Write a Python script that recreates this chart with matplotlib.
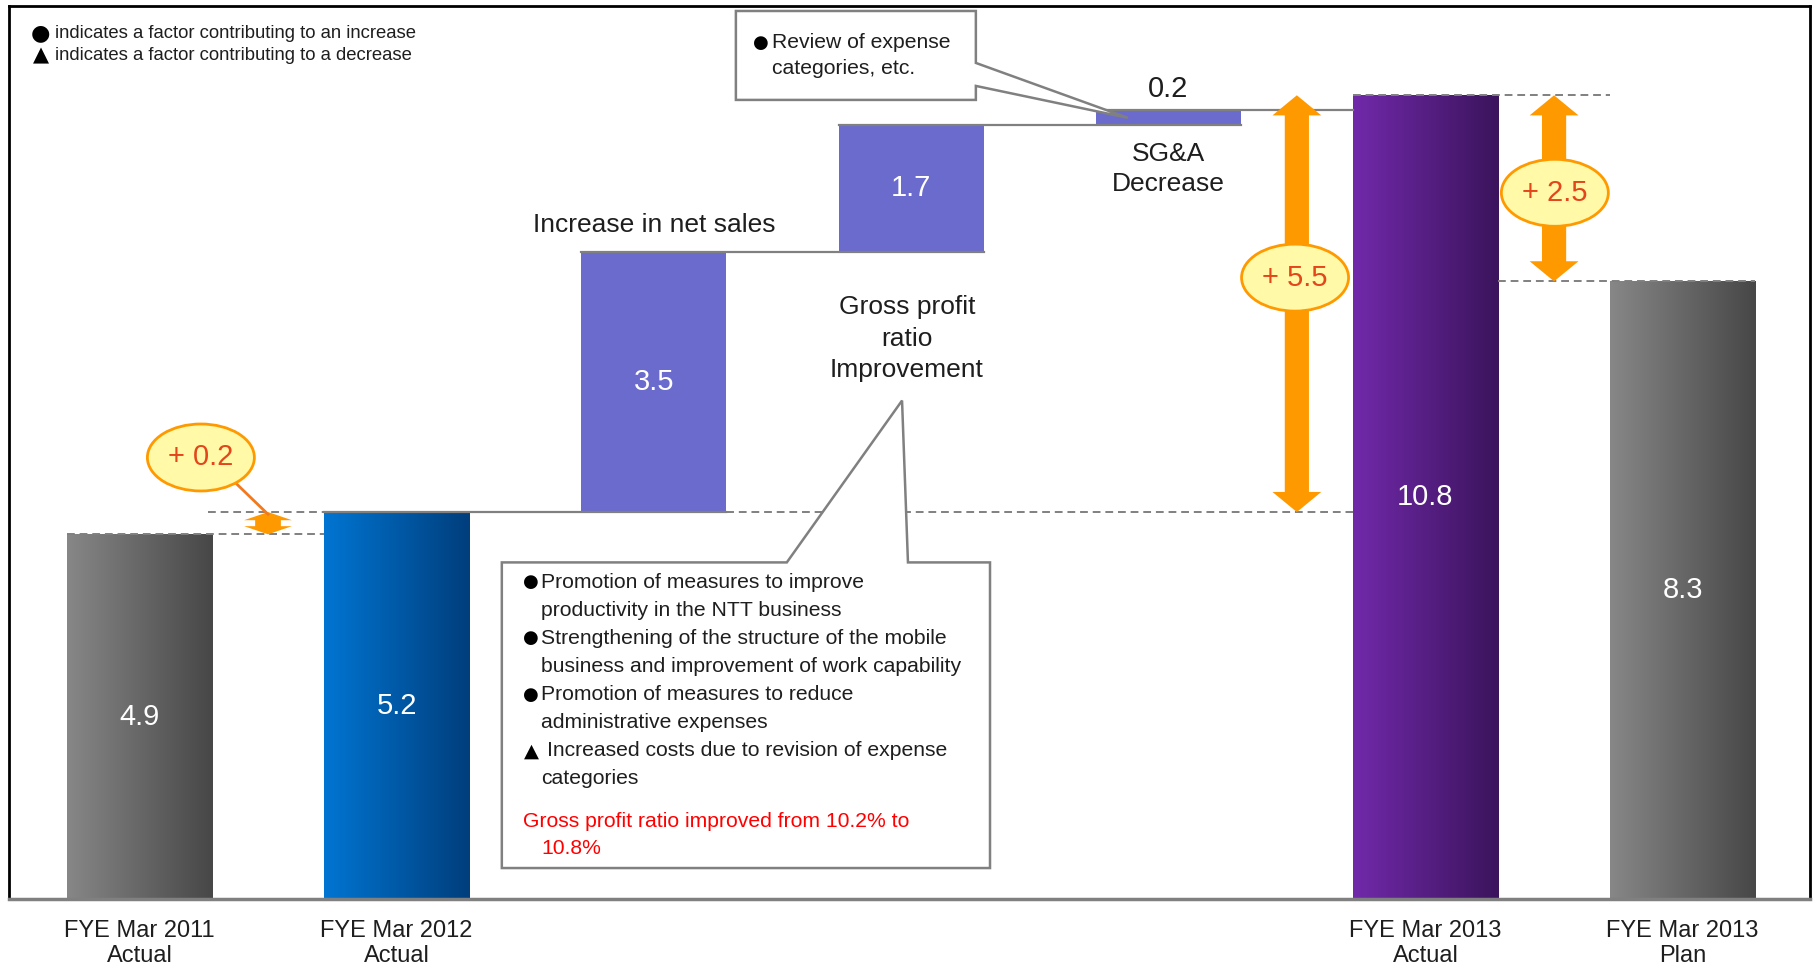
import numpy as np
import matplotlib
matplotlib.use("Agg")
import matplotlib.pyplot as plt
from matplotlib.patches import Ellipse, Polygon
from matplotlib.colors import to_rgb

plt.rcParams['font.family'] = ['Liberation Sans', 'DejaVu Sans']

# 数据
categories = ["FYE Mar 2011\nActual", "FYE Mar 2012\nActual", "", "", "",
              "FYE Mar 2013\nActual", "FYE Mar 2013\nPlan"]
actual_2011 = 4.9
actual_2012 = 5.2
steps = [3.5, 1.7, 0.2]            # 净销售增长 / 毛利率改善 / SG&A 减少
actual_2013 = 10.8
plan_2013 = 8.3
step_titles = ["Increase in net sales", "Gross profit\nratio\nImprovement", "SG&A\nDecrease"]
diff_labels = ["+ 0.2", "+ 5.5", "+ 2.5"]

legend_lines = [("●", "indicates a factor contributing to an increase"),
                ("▲", "indicates a factor contributing to a decrease")]
sga_note = ["Review of expense", "categories, etc."]
gp_notes = [("●", ["Promotion of measures to improve", "productivity in the NTT business"]),
            ("●", ["Strengthening of the structure of the mobile",
                   "business and improvement of work capability"]),
            ("●", ["Promotion of measures to reduce", "administrative expenses"]),
            ("▲", ["Increased costs due to revision of expense", "categories"])]
gp_red = ["Gross profit ratio improved from 10.2% to", "10.8%"]

# 颜色
gray_grad = ("#878787", "#474747")
blue_grad = ("#0075D2", "#003E7C")
purple_grad = ("#7129AA", "#3B145C")
step_color = "#6B6BCD"
orange = "#FF9900"
bubble_fill = "#FFF9A8"
bubble_text = "#E2461A"
line_gray = "#808080"
txt = "#1E1E1E"

W = 0.564
x = np.arange(7)
SYM = ['DejaVu Sans']

fig = plt.figure(figsize=(18.14, 9.65), dpi=100)
ax = fig.add_axes([9 / 1814, 1 - 899 / 965, 1801 / 1814, 893 / 965])


def grad_fill(bar, c_left, c_right):
    x0, y0 = bar.get_x(), bar.get_y()
    w, h = bar.get_width(), bar.get_height()
    t = np.linspace(0, 1, 256)[None, :, None]
    img = (1 - t) * np.array(to_rgb(c_left)) + t * np.array(to_rgb(c_right))
    im = ax.imshow(img, extent=[x0, x0 + w, y0, y0 + h], aspect='auto', zorder=2)
    im.set_clip_path(bar)


# 首尾柱（渐变）
totals = [actual_2011, actual_2012, actual_2013, plan_2013]
total_x = [0, 1, 5, 6]
grads = [gray_grad, blue_grad, purple_grad, gray_grad]
bars = ax.bar(total_x, totals, width=W, color='none', edgecolor='none', zorder=2)
for b, g in zip(bars, grads):
    grad_fill(b, *g)

# 瀑布柱
bottoms = actual_2012 + np.concatenate([[0], np.cumsum(steps)[:-1]])
ax.bar(x[2:5], steps, width=W, bottom=bottoms, color=step_color, zorder=2)
tops = bottoms + np.array(steps)

# 数值标签
for xi, v in zip(total_x, totals):
    ax.text(xi, v / 2, f"{v}", ha='center', va='center', color='white', fontsize=21, zorder=5)
for xi, b, v in zip(x[2:4], bottoms[:2], steps[:2]):
    ax.text(xi, b + v / 2, f"{v}", ha='center', va='center', color='white', fontsize=21, zorder=5)
ax.text(4, tops[2] + 0.29, f"{steps[2]}", ha='center', va='center', fontsize=21, color=txt)

ax.text(2, tops[0] + 0.36, step_titles[0], ha='center', va='center', fontsize=19, color=txt)
ax.text(2.984, 7.53, step_titles[1], ha='center', va='center', fontsize=19,
        linespacing=1.38, color=txt)
ax.text(4, 9.81, step_titles[2], ha='center', va='center', fontsize=19,
        linespacing=1.28, color=txt)

# 连接线
h = W / 2
lk = dict(color=line_gray, lw=1.6, zorder=3)
dk = dict(color=line_gray, lw=1.4, ls=(0, (4, 2.5)), zorder=3)
ax.plot([0 - h, 1 - h], [actual_2011] * 2, **dk)
ax.plot([0.266, 5 - h], [actual_2012] * 2, **dk)
ax.plot([1 - h, 2 + h], [actual_2012] * 2, **lk)
ax.plot([2 - h, 3 + h], [tops[0]] * 2, **lk)
ax.plot([3 - h, 4 + h], [tops[1]] * 2, **lk)
ax.plot([4 - h, 5 - h], [tops[2]] * 2, **lk)
ax.plot([5 - h, 6 - h], [actual_2013] * 2, **dk)
ax.plot([5 + h, 6 + h], [plan_2013] * 2, **dk)


def double_arrow(xc, y0, y1, sw, hw, hl):
    pts = [(xc, y1), (xc + hw, y1 - hl), (xc + sw, y1 - hl), (xc + sw, y0 + hl),
           (xc + hw, y0 + hl), (xc, y0), (xc - hw, y0 + hl), (xc - sw, y0 + hl),
           (xc - sw, y1 - hl), (xc - hw, y1 - hl)]
    ax.add_patch(Polygon(pts, closed=True, color=orange, lw=0, zorder=4))


def bubble(xc, yc, label):
    ax.add_patch(Ellipse((xc, yc), 0.416, 0.9, facecolor=bubble_fill, edgecolor=orange,
                         lw=2, zorder=6))
    ax.text(xc, yc, label, ha='center', va='center', fontsize=21, color=bubble_text, zorder=7)


double_arrow(0.5, actual_2011, actual_2012, 0.05, 0.093, 0.11)
ax.plot([0.364, 0.5], [5.624, actual_2012 - 0.03], color="#F27A1E", lw=2, zorder=4)
bubble(0.239, 5.933, diff_labels[0])

double_arrow(4.5, actual_2012, actual_2013, 0.047, 0.095, 0.27)
bubble(4.493, 8.35, diff_labels[1])

double_arrow(5.5, plan_2013, actual_2013, 0.047, 0.095, 0.27)
bubble(5.503, 9.49, diff_labels[2])

# 说明框：SG&A
ax.add_patch(Polygon([(2.319, 11.933), (3.252, 11.933), (3.252, 11.235), (3.843, 10.497),
                      (3.252, 10.926), (3.252, 10.738), (2.319, 10.738)],
                     closed=True, facecolor='white', edgecolor=line_gray, lw=1.8, zorder=8))
ax.text(2.416, 11.503, "●", ha='center', va='center', fontsize=13, family=SYM, zorder=9)
ax.text(2.459, 11.503, sga_note[0], ha='left', va='center', fontsize=15.2, color=txt, zorder=9)
ax.text(2.459, 11.154, sga_note[1], ha='left', va='center', fontsize=15.2, color=txt, zorder=9)

# 说明框：毛利率
ax.add_patch(Polygon([(1.409, 4.523), (2.517, 4.523), (2.965, 6.698), (2.988, 4.523),
                      (3.307, 4.523), (3.307, 0.416), (1.409, 0.416)],
                     closed=True, facecolor='white', edgecolor=line_gray, lw=1.8, zorder=8))
y = 4.255
step = 0.377
for mark, lines in gp_notes:
    if mark == "●":
        ax.text(1.522, y, mark, ha='center', va='center', fontsize=13, family=SYM, zorder=9)
        ax.text(1.561, y, lines[0], ha='left', va='center', fontsize=15.2, color=txt, zorder=9)
    else:
        ax.text(1.524, y, mark, ha='center', va='center', fontsize=14, family=SYM, zorder=9)
        ax.text(1.584, y, lines[0], ha='left', va='center', fontsize=15.2, color=txt, zorder=9)
    ax.text(1.561, y - step, lines[1], ha='left', va='center', fontsize=15.2, color=txt, zorder=9)
    y -= 2 * step
ax.text(1.491, 1.047, gp_red[0], ha='left', va='center', fontsize=15.2, color='#FF0000', zorder=9)
ax.text(1.561, 0.685, gp_red[1], ha='left', va='center', fontsize=15.2, color='#FF0000', zorder=9)

# 图例说明
for (mark, line), yy in zip(legend_lines, [0.969, 0.945]):
    ax.text(0.0176, yy, mark, transform=ax.transAxes, ha='center', va='center',
            fontsize=16 if mark == "●" else 15, family=SYM)
    ax.text(0.0255, yy, line, transform=ax.transAxes, ha='left', va='center',
            fontsize=13.3, color=txt)

# 坐标轴
ax.set_xlim(-0.507, 6.495)
ax.set_ylim(0, 12)
ax.set_xticks(total_x, [categories[i] for i in total_x], fontsize=17, color=txt)
ax.tick_params(axis='x', length=0, pad=15)
ax.set_yticks([])
for s in ['left', 'top', 'right']:
    ax.spines[s].set_color('black')
    ax.spines[s].set_linewidth(2)
ax.spines['bottom'].set_color(line_gray)
ax.spines['bottom'].set_linewidth(2.5)

plt.savefig("out.png", dpi=100)
plt.close()
